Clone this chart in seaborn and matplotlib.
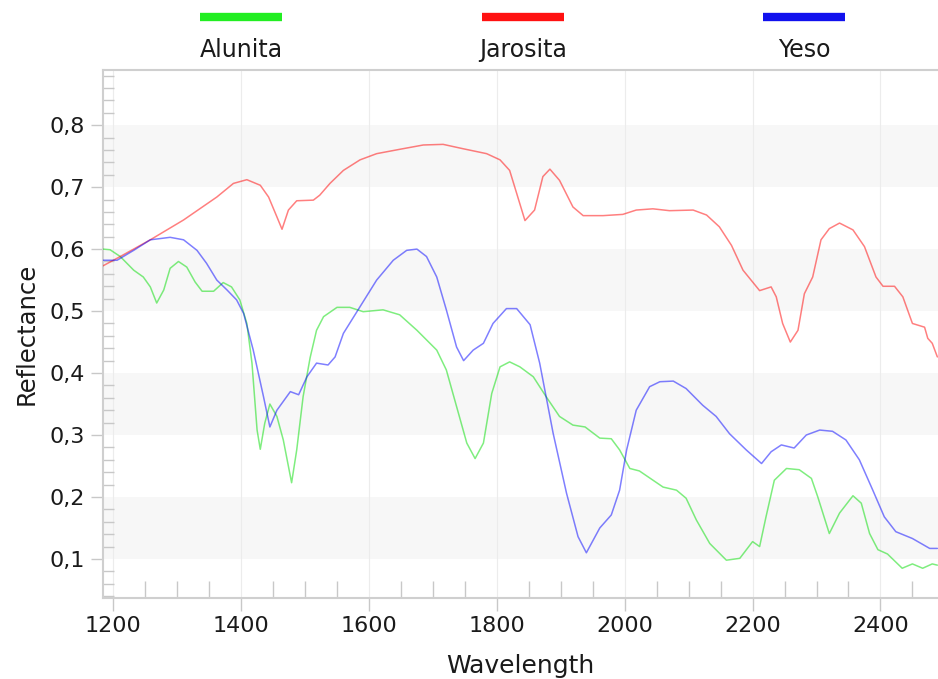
import numpy as np
import pandas as pd
import matplotlib
matplotlib.use("Agg")
import matplotlib.pyplot as plt
from matplotlib.lines import Line2D
from matplotlib.ticker import MultipleLocator, FuncFormatter
import seaborn as sns

# ---- data ----
wl_alunita = [1184, 1195, 1211, 1232, 1247, 1258, 1268, 1279, 1289, 1302, 1315, 1328,
              1339, 1357, 1372, 1385, 1398, 1409, 1417, 1425, 1430, 1437, 1445, 1456,
              1466, 1479, 1487, 1497, 1508, 1518, 1529, 1550, 1570, 1591, 1622, 1648,
              1675, 1706, 1721, 1737, 1753, 1766, 1779, 1792, 1805, 1820, 1836, 1857,
              1877, 1898, 1919, 1938, 1961, 1979, 1992, 2008, 2023, 2060, 2081, 2096,
              2112, 2133, 2159, 2180, 2200, 2211, 2221, 2234, 2253, 2273, 2292, 2302,
              2320, 2336, 2357, 2370, 2383, 2396, 2411, 2434, 2450, 2466, 2481, 2489]
alunita = [0.600, 0.599, 0.588, 0.566, 0.555, 0.539, 0.513, 0.534, 0.569, 0.580, 0.571, 0.547,
           0.532, 0.532, 0.546, 0.539, 0.518, 0.480, 0.416, 0.308, 0.277, 0.319, 0.350, 0.330,
           0.292, 0.223, 0.276, 0.362, 0.425, 0.469, 0.491, 0.506, 0.506, 0.499, 0.502, 0.494,
           0.469, 0.437, 0.405, 0.346, 0.287, 0.262, 0.287, 0.367, 0.410, 0.418, 0.410, 0.394,
           0.362, 0.330, 0.316, 0.313, 0.295, 0.294, 0.276, 0.246, 0.242, 0.216, 0.211, 0.198,
           0.163, 0.125, 0.098, 0.101, 0.128, 0.120, 0.168, 0.227, 0.246, 0.244, 0.230, 0.200,
           0.141, 0.174, 0.202, 0.190, 0.141, 0.115, 0.108, 0.085, 0.092, 0.085, 0.092, 0.090]

wl_jarosita = [1184, 1211, 1258, 1310, 1362, 1388, 1409, 1430, 1443, 1456, 1464, 1474,
               1487, 1513, 1523, 1539, 1560, 1586, 1612, 1648, 1685, 1716, 1747, 1784,
               1805, 1820, 1831, 1844, 1859, 1872, 1883, 1898, 1919, 1935, 1966, 1997,
               2018, 2044, 2070, 2107, 2128, 2148, 2167, 2185, 2211, 2229, 2237, 2247,
               2259, 2271, 2281, 2294, 2307, 2320, 2336, 2357, 2375, 2393, 2404, 2422,
               2435, 2450, 2469, 2474, 2481, 2489]
jarosita = [0.573, 0.588, 0.615, 0.647, 0.684, 0.706, 0.712, 0.703, 0.684, 0.652, 0.632, 0.663,
            0.678, 0.679, 0.687, 0.706, 0.727, 0.744, 0.754, 0.761, 0.768, 0.769, 0.762, 0.754,
            0.744, 0.727, 0.690, 0.646, 0.663, 0.717, 0.729, 0.711, 0.668, 0.654, 0.654, 0.656,
            0.663, 0.665, 0.662, 0.663, 0.655, 0.636, 0.606, 0.566, 0.533, 0.539, 0.523, 0.480,
            0.450, 0.469, 0.528, 0.555, 0.615, 0.633, 0.642, 0.631, 0.604, 0.555, 0.540, 0.540,
            0.523, 0.480, 0.474, 0.456, 0.448, 0.426]

wl_yeso = [1184, 1206, 1232, 1258, 1289, 1310, 1331, 1346, 1362, 1378, 1393, 1404,
           1419, 1435, 1445, 1456, 1477, 1490, 1503, 1518, 1536, 1547, 1560, 1586,
           1612, 1638, 1659, 1675, 1690, 1706, 1721, 1737, 1748, 1763, 1779, 1794,
           1815, 1831, 1852, 1867, 1888, 1909, 1927, 1940, 1961, 1979, 1992, 2003,
           2018, 2039, 2055, 2076, 2096, 2122, 2143, 2164, 2190, 2214, 2229, 2245,
           2265, 2284, 2305, 2325, 2346, 2367, 2388, 2406, 2424, 2450, 2477, 2489]
yeso = [0.582, 0.582, 0.598, 0.615, 0.619, 0.615, 0.598, 0.577, 0.550, 0.534, 0.518, 0.496,
        0.437, 0.362, 0.313, 0.340, 0.370, 0.365, 0.394, 0.416, 0.413, 0.426, 0.464, 0.507,
        0.550, 0.582, 0.598, 0.600, 0.588, 0.555, 0.502, 0.442, 0.420, 0.437, 0.448, 0.480,
        0.504, 0.504, 0.478, 0.416, 0.303, 0.206, 0.136, 0.110, 0.150, 0.171, 0.211, 0.276,
        0.340, 0.378, 0.386, 0.387, 0.375, 0.348, 0.330, 0.302, 0.276, 0.254, 0.273, 0.284,
        0.279, 0.300, 0.308, 0.306, 0.292, 0.260, 0.211, 0.168, 0.144, 0.133, 0.117, 0.117]

series_names = ["Alunita", "Jarosita", "Yeso"]
line_colors = ["#00dd00", "#ff0000", "#0000ff"]
legend_colors = ["#22ee22", "#ff1111", "#1111ee"]
x_ticks = [1200, 1400, 1600, 1800, 2000, 2200, 2400]
y_ticks = [0.1, 0.2, 0.3, 0.4, 0.5, 0.6, 0.7, 0.8]

df = pd.concat([
    pd.DataFrame({"Wavelength": wl_alunita, "Reflectance": alunita, "Mineral": "Alunita"}),
    pd.DataFrame({"Wavelength": wl_jarosita, "Reflectance": jarosita, "Mineral": "Jarosita"}),
    pd.DataFrame({"Wavelength": wl_yeso, "Reflectance": yeso, "Mineral": "Yeso"}),
], ignore_index=True)

sns.set_theme(style="white")
plt.rcParams["font.family"] = ["DejaVu Sans"]

W, H = 938, 679
fig = plt.figure(figsize=(W / 100, H / 100), dpi=100)
ax = fig.add_axes([103 / W, 1 - 598 / H, (W - 103) / W, (598 - 70) / H])

# alternating background bands
for lo in [0.1, 0.3, 0.5, 0.7]:
    ax.axhspan(lo, lo + 0.1, color="#f7f7f7", zorder=0, lw=0)

for xv in x_ticks:
    ax.axvline(xv, color="#ececec", lw=0.8, zorder=0.5)

sns.lineplot(data=df, x="Wavelength", y="Reflectance", hue="Mineral",
             palette=dict(zip(series_names, line_colors)), sort=False,
             estimator=None, lw=1.1, alpha=0.5, legend=False, ax=ax, zorder=3)

ax.set_xlim(1184, 2490)
ax.set_ylim(0.037, 0.889)

ax.xaxis.set_major_locator(MultipleLocator(200))
ax.xaxis.set_minor_locator(MultipleLocator(50))
ax.yaxis.set_major_locator(MultipleLocator(0.1))
ax.yaxis.set_minor_locator(MultipleLocator(0.02))
ax.set_xticks(x_ticks)
ax.set_yticks(y_ticks)
ax.yaxis.set_major_formatter(FuncFormatter(lambda v, p: f"{v:.1f}".replace(".", ",")))

ax.tick_params(axis="both", which="major", direction="out", length=9, width=1,
               color="#c8c8c8", labelsize=16, labelcolor="#1a1a1a", pad=4)
ax.tick_params(axis="x", which="minor", direction="in", length=12, width=1, color="#c8c8c8")
ax.tick_params(axis="y", which="minor", direction="in", length=8, width=1, color="#c8c8c8")
ax.tick_params(axis="x", which="both", bottom=True)
ax.tick_params(axis="y", which="both", left=True)

for side in ["left", "bottom", "top"]:
    ax.spines[side].set_visible(True)
    ax.spines[side].set_color("#cfcfcf")
    ax.spines[side].set_linewidth(1.5)
ax.spines["right"].set_visible(False)

ax.set_xlabel("Wavelength", fontsize=18, color="#1a1a1a", labelpad=13)
ax.set_ylabel("Reflectance", fontsize=17.5, color="#1a1a1a", labelpad=8)

# legend on top: colored bars with labels beneath
legend_x = [241, 523, 804]
for name, col, cx in zip(series_names, legend_colors, legend_x):
    fig.add_artist(Line2D([(cx - 41) / W, (cx + 41) / W], [1 - 17 / H, 1 - 17 / H],
                          color=col, lw=6, solid_capstyle="butt",
                          transform=fig.transFigure))
    fig.text(cx / W, 1 - 50 / H, name, ha="center", va="center",
             fontsize=17, color="#1a1a1a")

fig.savefig("out.png", dpi=100)
